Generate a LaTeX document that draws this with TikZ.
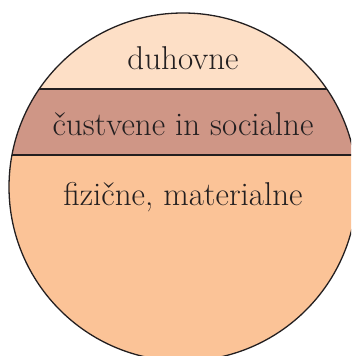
\documentclass[tikz,border=0pt]{standalone}
\usepackage{fontspec}
\definecolor{topband}{HTML}{FDDFC6}
\definecolor{midband}{HTML}{CF9686}
\definecolor{lowband}{HTML}{FBC397}
\definecolor{ink}{HTML}{231F20}
\begin{document}
\begin{tikzpicture}[x=1pt,y=1pt,
  label/.style={font=\fontsize{33}{38}\selectfont, text=ink, anchor=base, inner sep=0pt},
  rim/.style={draw=ink, line width=1.3pt}]
\useasboundingbox (0,0) rectangle (351,356);
\clip (0,0) rectangle (351,356);
\coordinate (c) at (183,169);
\begin{scope}
  \clip (c) circle (174);
  \fill[lowband] (0,0) rectangle (360,201);
  \fill[midband] (0,201) rectangle (360,267);
  \fill[topband] (0,267) rectangle (360,360);
  \draw[rim] (0,267) -- (360,267);
  \draw[rim] (0,201) -- (360,201);
\end{scope}
\draw[rim] (c) circle (174);
\node[label] (t1) at (183,286) {duhovne};
\node[label] (t2) at (183,220) {čustvene in socialne};
\node[label] (t3) at (183,150.3) {fizične, materialne};
\end{tikzpicture}
\end{document}
